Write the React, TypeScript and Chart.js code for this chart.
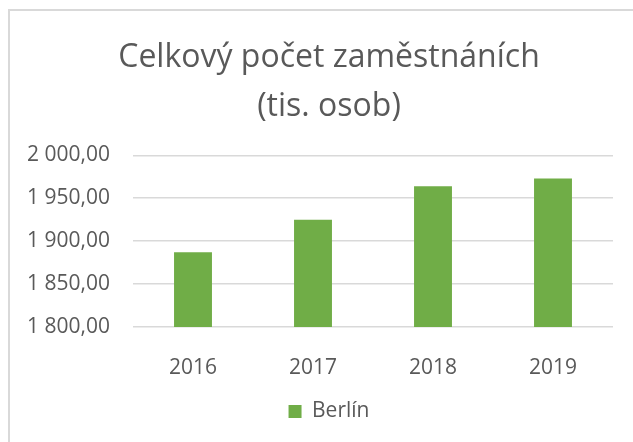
import React, { useEffect, useRef } from "react";
import { Chart, registerables } from "chart.js";

Chart.register(...registerables);

const categories = ["2016", "2017", "2018", "2019"];
const seriesName = "Berlín";
const berlinValues = [1887, 1925, 1964, 1973];
const titleLines = ["Celkový počet zaměstnáních", "(tis. osob)"];
const yMin = 1800;
const yMax = 2000;
const yStep = 50;

const FONT = "'Open Sans', 'Noto Sans', sans-serif";
const TEXT = "#595959";
const GRID = "#d9d9d9";
const GREEN = "#70AD47";

function formatCz(v: number): string {
  const fixed = v.toFixed(2);
  const [intPart, dec] = fixed.split(".");
  const withSpaces = intPart.replace(/\B(?=(\d{3})+(?!\d))/g, " ");
  return withSpaces + "," + dec;
}

export default function App() {
  const ref = useRef<HTMLCanvasElement | null>(null);

  useEffect(() => {
    if (!ref.current) return;
    const chart = new Chart(ref.current, {
      type: "bar",
      data: {
        labels: categories,
        datasets: [
          {
            label: seriesName,
            data: berlinValues,
            backgroundColor: GREEN,
            borderWidth: 0,
            categoryPercentage: 1,
            barPercentage: 0.316,
          },
        ],
      },
      options: {
        responsive: false,
        animation: false,
        devicePixelRatio: 1,
        layout: { padding: { top: 0, bottom: 10, left: 0, right: 0 } },
        plugins: {
          title: {
            display: true,
            text: titleLines,
            color: TEXT,
            font: { family: FONT, size: 32, weight: "normal", lineHeight: 1.52 },
            padding: { top: 23, bottom: 24 },
          },
          legend: {
            display: true,
            position: "bottom",
            labels: {
              color: TEXT,
              font: { family: FONT, size: 21 },
              boxWidth: 13,
              boxHeight: 13,
              padding: 10,
            },
          },
          tooltip: { enabled: false },
        },
        scales: {
          x: {
            grid: { display: false },
            border: { display: false },
            ticks: {
              color: TEXT,
              font: { family: FONT, size: 21 },
              padding: 20,
            },
            afterFit: (s: any) => {
              s.height = 64;
            },
          },
          y: {
            min: yMin,
            max: yMax,
            grid: { color: GRID, lineWidth: 1.5, drawTicks: false },
            border: { display: false },
            ticks: {
              stepSize: yStep,
              color: TEXT,
              font: { family: FONT, size: 21 },
              padding: 23,
              callback: (v: any) => formatCz(Number(v)),
            },
            afterFit: (s: any) => {
              s.width = 123;
            },
          },
          yRightSpace: {
            type: "linear",
            position: "right",
            min: 0,
            max: 1,
            grid: { display: false, drawTicks: false },
            border: { display: false },
            ticks: { display: false },
            afterFit: (s: any) => {
              s.width = 35;
            },
          },
        },
      } as any,
    });
    return () => chart.destroy();
  }, []);

  return (
    <div
      style={{
        position: "fixed",
        left: 8,
        top: 9,
        width: 640,
        height: 434,
        overflow: "hidden",
        borderLeft: "2px solid #d9d9d9",
        borderTop: "2px solid #d9d9d9",
        background: "#fff",
      }}
    >
      <canvas ref={ref} width={638} height={431} style={{ display: "block" }} />
    </div>
  );
}
